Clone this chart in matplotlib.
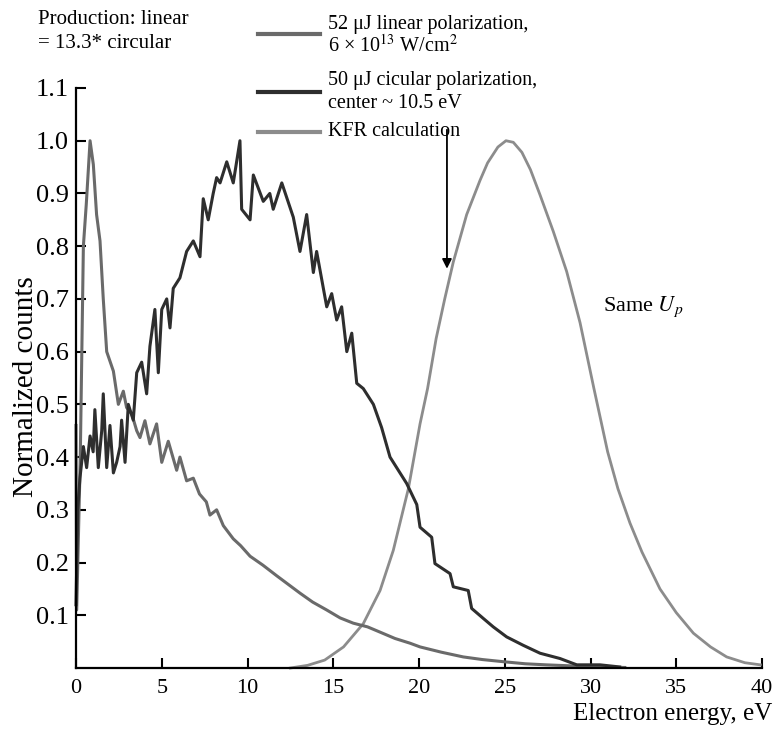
import matplotlib
matplotlib.use("Agg")
import matplotlib.pyplot as plt
from matplotlib.lines import Line2D

plt.rcParams["font.family"] = ["Liberation Serif", "DejaVu Serif"]
plt.rcParams["mathtext.fontset"] = "stix"

# ---- data (energy in eV, normalized counts) ----
linear_e = [0.0, 0.04, 0.25, 0.43, 0.6, 0.82, 1.01, 1.2, 1.4, 1.59, 1.79, 1.98,
            2.18, 2.47, 2.76, 2.95, 3.25, 3.54, 3.73, 4.02, 4.31, 4.7, 5.0, 5.38,
            5.87, 6.06, 6.45, 6.84, 7.2, 7.6, 7.81, 8.2, 8.59, 9.17, 9.6, 10.15,
            10.9, 11.7, 12.4, 13.06, 13.8, 14.62, 15.4, 16.17, 17.0, 17.73, 18.6,
            19.48, 20.06, 21.3, 22.58, 23.7, 24.9, 26.2, 27.4, 28.9, 30.4, 32.0]
linear_v = [0.46, 0.11, 0.40, 0.80, 0.88, 1.0, 0.955, 0.86, 0.81, 0.70, 0.60, 0.582,
            0.563, 0.50, 0.525, 0.494, 0.482, 0.45, 0.437, 0.469, 0.425, 0.463, 0.39, 0.43,
            0.375, 0.40, 0.355, 0.36, 0.33, 0.315, 0.29, 0.30, 0.27, 0.245, 0.232, 0.212,
            0.195, 0.175, 0.158, 0.142, 0.125, 0.11, 0.095, 0.085, 0.078, 0.068, 0.056,
            0.047, 0.040, 0.030, 0.021, 0.016, 0.012, 0.008, 0.006, 0.004, 0.002, 0.001]

circ_e = [0.0, 0.1, 0.23, 0.43, 0.62, 0.82, 1.0, 1.1, 1.3, 1.5, 1.59, 1.79, 1.98,
          2.18, 2.37, 2.57, 2.66, 2.86, 3.05, 3.34, 3.54, 3.83, 4.12, 4.31, 4.6, 4.8,
          5.0, 5.29, 5.48, 5.67, 6.06, 6.45, 6.84, 7.23, 7.42, 7.71, 8.0, 8.2, 8.4,
          8.79, 9.17, 9.56, 9.66, 10.15, 10.34, 10.92, 11.3, 11.5, 12.0, 12.67, 13.06,
          13.45, 13.84, 14.03, 14.62, 14.91, 15.2, 15.49, 15.79, 16.08, 16.37, 16.75,
          17.34, 17.82, 18.31, 19.28, 19.87, 20.06, 20.74, 20.93, 21.81, 22.0, 22.87,
          23.07, 23.75, 24.33, 25.11, 26.08, 27.06, 28.22, 29.2, 30.55, 31.7]
circ_v = [0.12, 0.30, 0.36, 0.42, 0.38, 0.44, 0.41, 0.49, 0.38, 0.45, 0.52, 0.38, 0.46,
          0.37, 0.39, 0.42, 0.47, 0.39, 0.50, 0.47, 0.56, 0.58, 0.52, 0.61, 0.68, 0.56,
          0.68, 0.70, 0.645, 0.72, 0.74, 0.79, 0.81, 0.78, 0.89, 0.85, 0.90, 0.93, 0.92,
          0.96, 0.92, 1.0, 0.87, 0.85, 0.935, 0.885, 0.90, 0.87, 0.92, 0.855, 0.79,
          0.86, 0.75, 0.79, 0.685, 0.71, 0.66, 0.685, 0.60, 0.635, 0.54, 0.53,
          0.50, 0.456, 0.40, 0.35, 0.31, 0.267, 0.248, 0.198, 0.179, 0.154, 0.147,
          0.113, 0.094, 0.078, 0.059, 0.043, 0.028, 0.018, 0.006, 0.006, 0.002]

kfr_e = [12.5, 13.5, 14.5, 15.6, 16.75, 17.73, 18.5, 19.38, 20.06, 20.5, 21.0, 21.5,
         22.0, 22.78, 23.56, 24.0, 24.6, 25.07, 25.5, 26.0, 26.5, 27.06, 27.83, 28.61,
         29.39, 30.2, 31.0, 31.6, 32.3, 33.0, 34.05, 35.0, 36.0, 37.0, 37.94, 39.0, 39.9]
kfr_v = [0.0, 0.005, 0.015, 0.040, 0.084, 0.147, 0.223, 0.34, 0.463, 0.53, 0.625, 0.70,
         0.77, 0.86, 0.925, 0.958, 0.988, 1.0, 0.997, 0.978, 0.945, 0.897, 0.828, 0.752,
         0.655, 0.53, 0.41, 0.34, 0.275, 0.22, 0.15, 0.105, 0.066, 0.04, 0.021, 0.01, 0.006]

x_ticks = [0, 5, 10, 15, 20, 25, 30, 35, 40]
y_ticks = [0.1, 0.2, 0.3, 0.4, 0.5, 0.6, 0.7, 0.8, 0.9, 1.0, 1.1]

C_LIN, C_CIRC, C_KFR = "#6a6a6a", "#2e2e2e", "#8c8c8c"

W, H = 778, 734
fig = plt.figure(figsize=(W / 100, H / 100), dpi=100)
ax = fig.add_axes([76 / W, 1 - 668 / H, (762 - 76) / W, (668 - 88) / H])

ax.plot(kfr_e, kfr_v, color=C_KFR, lw=2.0, clip_on=False)
ax.plot(linear_e, linear_v, color=C_LIN, lw=2.2, clip_on=False)
ax.plot(circ_e, circ_v, color=C_CIRC, lw=2.2, clip_on=False)

ax.set_xlim(0, 40)
ax.set_ylim(0, 1.1)
ax.set_xticks(x_ticks)
ax.set_yticks(y_ticks)
ax.set_yticklabels([f"{t:.1f}" for t in y_ticks])
ax.tick_params(direction="in", length=7, width=1.5, color="black")
ax.tick_params(axis="x", labelsize=16, pad=8)
ax.tick_params(axis="y", labelsize=19, pad=5)
for s in ("top", "right"):
    ax.spines[s].set_visible(False)
for s in ("left", "bottom"):
    ax.spines[s].set_linewidth(1.6)

# arrow pointing at KFR curve and side note
ax.annotate("", xy=(21.63, 0.752), xytext=(21.63, 1.026),
            arrowprops=dict(arrowstyle="-|>", color="black", lw=1.3, mutation_scale=14))
ax.text(30.7, 0.686, "Same $U_p$", fontsize=16, va="center", ha="left")

# axis labels
fig.text(772 / W, 1 - 720 / H, "Electron energy, eV", fontsize=18, ha="right", va="baseline")
fig.text(26 / W, 1 - 387 / H, "Normalized counts", fontsize=21, rotation=90,
         ha="center", va="center")

# header notes and hand-made legend
fig.text(38 / W, 1 - 20 / H, "Production: linear", fontsize=15, va="center")
fig.text(38 / W, 1 - 43 / H, "= 13.3* circular", fontsize=15, va="center")

legend_rows = [
    (34, C_LIN, [(24, "52 μJ linear polarization,"), (46, "6 × 10$^{13}$ W/cm$^2$")]),
    (92, C_CIRC, [(81, "50 μJ cicular polarization,"), (103, "center ~ 10.5 eV")]),
    (132, C_KFR, [(132, "KFR calculation")]),
]
for ly, col, lines in legend_rows:
    fig.add_artist(Line2D([258 / W, 320 / W], [1 - ly / H, 1 - ly / H],
                          color=col, lw=3.0, transform=fig.transFigure))
    for ty, txt in lines:
        fig.text(328 / W, 1 - ty / H, txt, fontsize=14.5, va="center")

fig.savefig("out.png", dpi=100)
